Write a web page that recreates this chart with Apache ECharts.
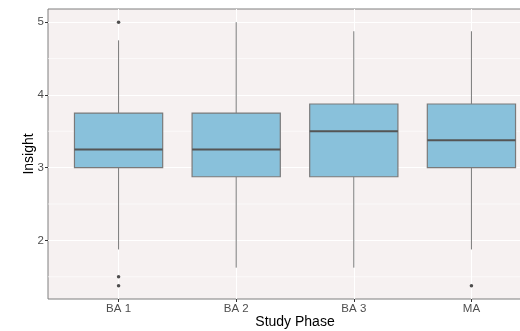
<!DOCTYPE html>
<html><head><meta charset="utf-8">
<script src="https://cdn.jsdelivr.net/npm/echarts@6/dist/echarts.min.js"></script>
<style>html,body{margin:0;padding:0;background:#fff}#c{width:520px;height:331px}</style>
</head><body><div id="c"></div>
<script>
const categories = ['BA 1', 'BA 2', 'BA 3', 'MA'];
const whiskerLow = [1.875, 1.625, 1.625, 1.875];
const q1 = [3.0, 2.875, 2.875, 3.0];
const median = [3.25, 3.25, 3.5, 3.375];
const q3 = [3.75, 3.75, 3.875, 3.875];
const whiskerHigh = [4.75, 5.0, 4.875, 4.875];
const outliers = [['BA 1', 5.0], ['BA 1', 1.5], ['BA 1', 1.375], ['MA', 1.375]];
const yTicks = [2, 3, 4, 5];
const yMinor = [1.5, 2.5, 3.5, 4.5];
const xTicks = [1, 2, 3, 4];

const X_MIN = 0.4, X_MAX = 4.6, Y_MIN = 1.194, Y_MAX = 5.181;
const boxData = categories.map((c, i) => [i + 1, whiskerLow[i], q1[i], median[i], q3[i], whiskerHigh[i]]);
const outData = outliers.map(o => [categories.indexOf(o[0]) + 1, o[1]]);

const chart = echarts.init(document.getElementById('c'), null, {renderer: 'canvas'});
chart.setOption({
  animation: false,
  grid: {left: 48, top: 9, width: 494, height: 290, containLabel: false, outerBoundsMode: 'none',
    show: true, backgroundColor: '#F6F1F1', borderColor: '#7f7f7f', borderWidth: 1},
  xAxis: {
    type: 'value', min: X_MIN, max: X_MAX,
    name: 'Study Phase', nameLocation: 'middle', nameGap: 16, nameMoveOverlap: false,
    nameTextStyle: {color: '#000', fontSize: 14, fontFamily: 'Liberation Sans'},
    axisLine: {show: false},
    axisTick: {show: true, customValues: xTicks, length: 3, lineStyle: {color: '#333', width: 1}},
    axisLabel: {customValues: xTicks, formatter: v => categories[Math.round(v) - 1] || '', color: '#4d4d4d', fontSize: 11.5, fontFamily: 'Liberation Sans', margin: 4},
    splitLine: {show: true, lineStyle: {color: '#ffffff', width: 1}}
  },
  yAxis: {
    type: 'value', min: Y_MIN, max: Y_MAX,
    name: 'Insight', nameLocation: 'middle', nameGap: 12, nameRotate: 90, nameMoveOverlap: false,
    nameTextStyle: {color: '#000', fontSize: 14, fontFamily: 'Liberation Sans'},
    axisLine: {show: false},
    axisTick: {show: true, customValues: yTicks, length: 3, lineStyle: {color: '#333', width: 1}},
    axisLabel: {customValues: yTicks, color: '#4d4d4d', fontSize: 11.5, fontFamily: 'Liberation Sans', margin: 4},
    splitLine: {show: true, lineStyle: {color: '#ffffff', width: 1}}
  },
  series: [
    {
      type: 'custom', z: 1, silent: true,
      data: yMinor.map(v => [v]),
      renderItem: (params, api) => {
        const v = api.value(0);
        const a = api.coord([X_MIN, v]), b = api.coord([X_MAX, v]);
        return {type: 'line', shape: {x1: a[0], y1: a[1], x2: b[0], y2: b[1]}, style: {stroke: '#ffffff', lineWidth: 0.6}};
      }
    },
    {
      type: 'custom', z: 2,
      encode: {x: 0, y: [1, 2, 3, 4, 5]},
      data: boxData,
      renderItem: (params, api) => {
        const x = api.value(0);
        const lo = api.value(1), a = api.value(2), m = api.value(3), b = api.value(4), hi = api.value(5);
        const hw = 0.375;
        const pLo = api.coord([x, lo]), pHi = api.coord([x, hi]);
        const pA = api.coord([x, a]), pB = api.coord([x, b]);
        const tl = api.coord([x - hw, b]), br = api.coord([x + hw, a]);
        const ml = api.coord([x - hw, m]), mr = api.coord([x + hw, m]);
        const stroke = '#7a7a7a';
        return {type: 'group', children: [
          {type: 'line', shape: {x1: pA[0], y1: pA[1], x2: pLo[0], y2: pLo[1]}, style: {stroke: stroke, lineWidth: 1}},
          {type: 'line', shape: {x1: pB[0], y1: pB[1], x2: pHi[0], y2: pHi[1]}, style: {stroke: stroke, lineWidth: 1}},
          {type: 'rect', shape: {x: tl[0], y: tl[1], width: br[0] - tl[0], height: br[1] - tl[1]}, style: {fill: '#89C1DB', stroke: stroke, lineWidth: 1.2}},
          {type: 'line', shape: {x1: ml[0], y1: ml[1], x2: mr[0], y2: mr[1]}, style: {stroke: '#555555', lineWidth: 2}}
        ]};
      }
    },
    {
      type: 'scatter', z: 3,
      data: outData,
      symbol: 'circle', symbolSize: 3.5,
      itemStyle: {color: '#222222'}
    }
  ]
});
</script></body></html>
